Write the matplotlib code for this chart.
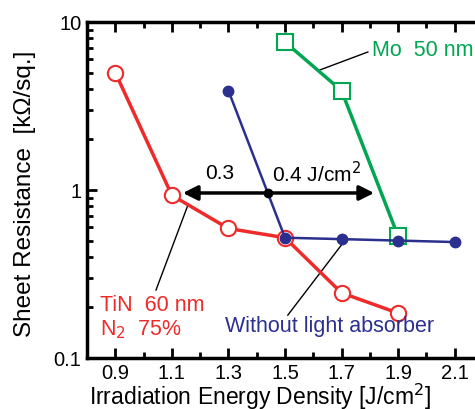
import numpy as np
import matplotlib.pyplot as plt
from matplotlib.ticker import FixedLocator, NullFormatter

plt.rcParams['font.family'] = ['Liberation Sans', 'DejaVu Sans']

tinX = [0.9, 1.1, 1.3, 1.5, 1.7, 1.9]
tinY = [5.0, 0.93, 0.59, 0.52, 0.244, 0.185]
noAbsX = [1.3, 1.5, 1.7, 1.9, 2.1]
noAbsY = [3.9, 0.52, 0.51, 0.50, 0.49]
moX = [1.5, 1.7, 1.9]
moY = [7.6, 3.9, 0.53]
xTicks = [0.9, 1.1, 1.3, 1.5, 1.7, 1.9, 2.1]
xTickLabels = ["0.9", "1.1", "1.3", "1.5", "1.7", "1.9", "2.1"]

red = "#ee2a2a"
blue = "#2b2f8e"
green = "#00a651"

W, H = 475, 409
fig = plt.figure(figsize=(W/100, H/100), dpi=100)
# axes runs past the right edge, like the cropped original
ax = fig.add_axes([87/W, 1 - 358/H, (483-87)/W, (358-22)/H])

ax.plot(tinX, tinY, color=red, lw=2.5, marker="o", ms=11, mfc="white", mec=red, mew=1.5, zorder=3)
ax.plot(moX, moY, color=green, lw=2.5, marker="s", ms=11, mfc="white", mec=green, mew=1.5, zorder=3)
ax.plot(noAbsX, noAbsY, color=blue, lw=1.8, marker="o", ms=7.5, mfc=blue, mec=blue, zorder=4)

ax.set_yscale("log")
ax.set_xlim(0.8, 2.2)
ax.set_ylim(0.1, 10)
ax.set_xticks(xTicks)
ax.set_xticklabels(xTickLabels)
ax.xaxis.set_minor_locator(FixedLocator(np.arange(0.8, 2.25, 0.1)))
ax.set_yticks([0.1, 1, 10])
ax.set_yticklabels(["0.1", "1", "10"])
ax.yaxis.set_minor_formatter(NullFormatter())

ax.tick_params(which="both", direction="in", top=True, right=False, width=2, labelsize=14.5, pad=4)
ax.tick_params(which="major", length=7)
ax.tick_params(which="minor", length=4)
for s in ["left", "bottom", "top"]:
    ax.spines[s].set_linewidth(2.5)
ax.spines["right"].set_visible(False)

fig.text(260/W, 1 - 397/H, "Irradiation Energy Density [J/cm$^2$]", fontsize=16.5, ha="center", va="center")
fig.text(25/W, 1 - 194/H, "Sheet Resistance  [k\u03a9/sq.]", fontsize=17.5, ha="center", va="center", rotation=90)

# double arrow with centre dot
ax.annotate("", xy=(1.129, 0.96), xytext=(1.44, 0.96),
            arrowprops=dict(arrowstyle="-|>", color="black", lw=2.5, mutation_scale=22))
ax.annotate("", xy=(1.825, 0.96), xytext=(1.44, 0.96),
            arrowprops=dict(arrowstyle="-|>", color="black", lw=2.5, mutation_scale=22))
ax.plot([1.44], [0.96], "o", color="black", ms=6, zorder=5)
ax.text(1.27, 1.26, "0.3", fontsize=15, ha="center", va="center")
ax.text(1.454, 1.26, "0.4 J/cm$^2$", fontsize=15, ha="left", va="center")

# labels with leader lines
ax.plot([1.623, 1.793], [5.18, 6.63], color="black", lw=1)
ax.text(1.807, 6.8, "Mo  50 nm", color=green, fontsize=15.5, va="center")
ax.plot([1.044, 1.157], [0.254, 0.815], color="black", lw=1)
ax.text(0.846, 0.206, "TiN  60 nm", color=red, fontsize=15.5, va="center")
ax.text(0.846, 0.147, "N$_2$  75%", color=red, fontsize=15.5, va="center")
ax.plot([1.51, 1.705], [0.180, 0.484], color="black", lw=1)
ax.text(1.288, 0.153, "Without light absorber", color=blue, fontsize=15.5, va="center")

fig.savefig("out.png", dpi=100)
